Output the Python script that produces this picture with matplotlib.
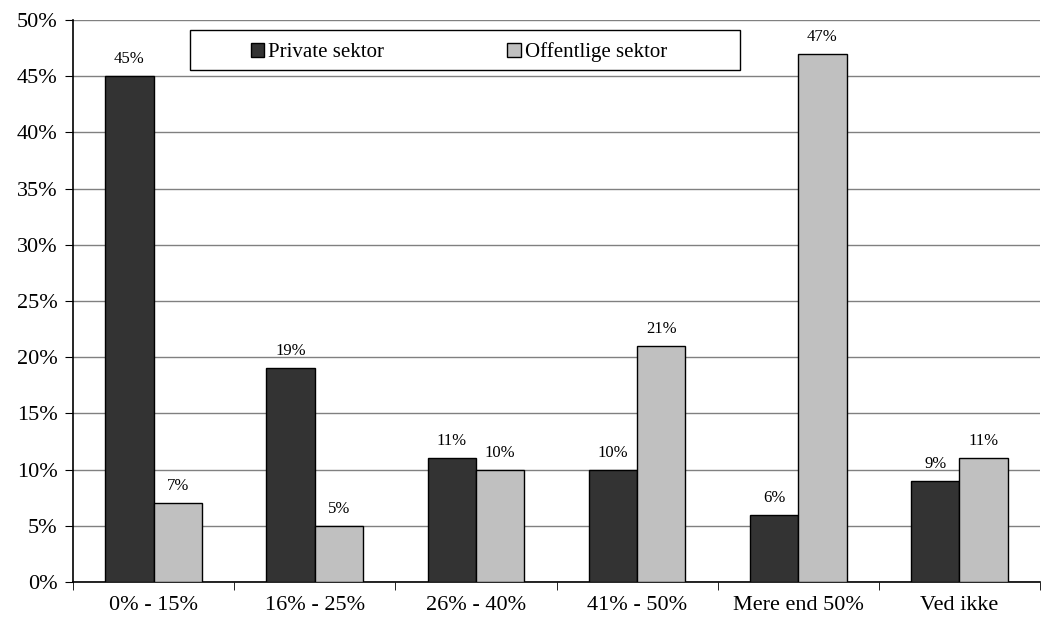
import numpy as np
import matplotlib.pyplot as plt
from matplotlib.patches import Rectangle
from matplotlib.ticker import PercentFormatter

# Data
categories = ['0% - 15%', '16% - 25%', '26% - 40%', '41% - 50%', 'Mere end 50%', 'Ved ikke']
private = [45, 19, 11, 10, 6, 9]
public = [7, 5, 10, 21, 47, 11]

plt.rcParams['font.family'] = ['Liberation Serif', 'DejaVu Serif']

fig = plt.figure(figsize=(10.51, 6.27), dpi=100)
ax = fig.add_axes([0.0695, 0.0718, 0.92, 0.8962])

x = np.arange(len(categories))
w = 0.3
b1 = ax.bar(x - w / 2, private, w, color='#333333', edgecolor='black', linewidth=1,
            label='Private sektor', zorder=3)
b2 = ax.bar(x + w / 2, public, w, color='#c0c0c0', edgecolor='black', linewidth=1,
            label='Offentlige sektor', zorder=3)

for bars, vals in [(b1, private), (b2, public)]:
    for r, v in zip(bars, vals):
        ax.text(r.get_x() + r.get_width() / 2, v + 0.8, f'{v}%', ha='center', va='bottom',
                fontsize=12)

ax.set_xlim(-0.5, len(categories) - 0.5)
ax.set_ylim(0, 50)
ax.set_yticks(range(0, 51, 5))
ax.yaxis.set_major_formatter(PercentFormatter(decimals=0))
ax.set_xticks(x)
ax.set_xticklabels(categories)
ax.set_xticks(np.arange(-0.5, len(categories)), minor=True)
ax.tick_params(axis='x', which='major', length=0, pad=10, labelsize=16)
ax.tick_params(axis='x', which='minor', length=6, direction='out', color='black')
ax.tick_params(axis='y', length=6, direction='out', labelsize=16, pad=5)

ax.grid(axis='y', color='#808080', linewidth=1, zorder=0)
ax.spines['top'].set_visible(False)
ax.spines['right'].set_visible(False)
ax.spines['left'].set_linewidth(1.2)
ax.spines['bottom'].set_linewidth(1.2)

# legend box (drawn separately so it can be wider than its contents)
fig.patches.append(Rectangle((190 / 1051, 1 - 70 / 627), 550 / 1051, 40 / 627,
                             transform=fig.transFigure, facecolor='white',
                             edgecolor='black', linewidth=1, zorder=4))
leg = fig.legend(handles=[b1, b2], loc='center', ncol=2,
                 bbox_to_anchor=(0.5 * (178 + 740) / 1051, 1 - 52 / 627),
                 frameon=False, fontsize=15, handlelength=0.65, handleheight=0.65,
                 handletextpad=0.2, columnspacing=5.9)
leg.set_zorder(5)

fig.savefig('out.png', dpi=100)
